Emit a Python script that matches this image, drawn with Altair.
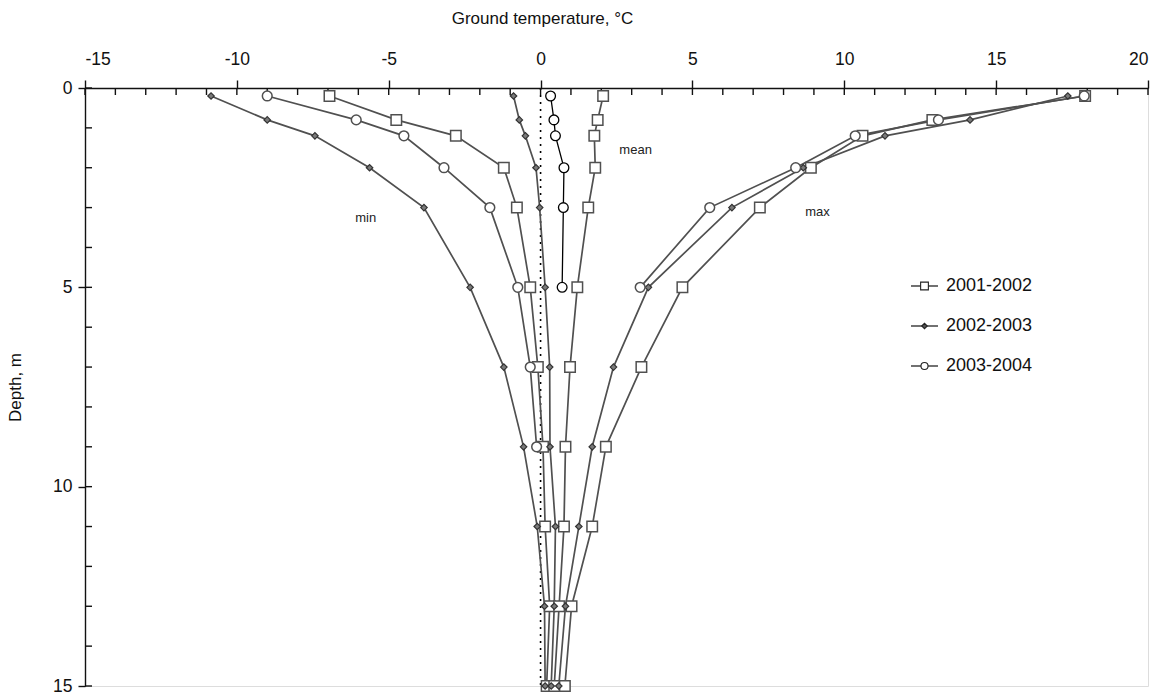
import altair as alt
import pandas as pd

# ---------------- data ----------------
years = ["2001-2002", "2002-2003", "2003-2004"]
depths = [0.2, 0.8, 1.2, 2, 3, 5, 7, 9, 11, 13, 15]

min_0102 = [-6.95, -4.75, -2.79, -1.21, -0.78, -0.34, -0.09, 0.08, 0.15, 0.30, 0.20]
min_0203 = [-10.85, -9.0, -7.43, -5.63, -3.84, -2.32, -1.21, -0.56, -0.11, 0.13, 0.15]
min_0304 = [-9.0, -6.07, -4.5, -3.18, -1.67, -0.75, -0.34, -0.13]

mean_0102 = [2.06, 1.88, 1.77, 1.80, 1.57, 1.21, 0.97, 0.82, 0.77, 0.61, 0.45]
mean_0203 = [-0.89, -0.70, -0.50, -0.15, -0.03, 0.15, 0.30, 0.31, 0.49, 0.45, 0.35]
mean_0304 = [0.33, 0.44, 0.49, 0.77, 0.75, 0.71]

max_0102 = [17.93, 12.9, 10.6, 8.9, 7.22, 4.67, 3.32, 2.15, 1.70, 1.02, 0.80]
max_0203 = [17.36, 14.14, 11.34, 8.65, 6.3, 3.55, 2.40, 1.70, 1.26, 0.82, 0.60]
max_0304 = [17.9, 13.1, 10.36, 8.4, 5.57, 3.28]

x_major = [-15, -10, -5, 0, 5, 10, 15, 20]
x_minor = list(range(-15, 21))
y_major = [0, 5, 10, 15]
y_minor = list(range(0, 16))

annot_text = ["min", "mean", "max"]
annot_temp = [-5.76, 3.13, 9.12]
annot_depth = [3.25, 1.55, 3.1]

# ---------------- build table ----------------
rows = []
def add(year, kind, temps):
    for d, t in zip(depths, temps):
        rows.append({"year": year, "kind": kind, "curve": year + " " + kind,
                     "depth": d, "temp": t})

add(years[0], "min", min_0102); add(years[1], "min", min_0203); add(years[2], "min", min_0304)
add(years[0], "mean", mean_0102); add(years[1], "mean", mean_0203); add(years[2], "mean", mean_0304)
add(years[0], "max", max_0102); add(years[1], "max", max_0203); add(years[2], "max", max_0304)
df = pd.DataFrame(rows)

FONT = "Liberation Sans"
X = alt.X("temp:Q",
          scale=alt.Scale(domain=[-15, 20], nice=False, zero=False),
          axis=alt.Axis(orient="top", values=x_major, title="Ground temperature, °C",
                        labelExpr="'' + datum.value", grid=False,
                        tickSize=8, tickWidth=1.4, tickColor="#111",
                        domainColor="#111", domainWidth=1.4,
                        labelFont=FONT, labelFontSize=17.5, labelColor="#111",
                        labelPadding=12, titleFont=FONT, titleFontSize=17,
                        titleFontWeight="normal", titleColor="#111", titlePadding=23,
                        titleX=457, titleAlign="center", titleAnchor="start"))
Y = alt.Y("depth:Q",
          scale=alt.Scale(domain=[0, 15], reverse=True, nice=False, zero=False),
          axis=alt.Axis(values=y_major, title="Depth, m", grid=False,
                        tickSize=7, tickWidth=1.4, tickColor="#111",
                        domainColor="#111", domainWidth=1.4,
                        labelFont=FONT, labelFontSize=17.5, labelColor="#111",
                        labelPadding=6, titleFont=FONT, titleFontSize=17,
                        titleFontWeight="normal", titleColor="#111", titlePadding=28))

GRAY = "#505050"
base = alt.Chart(df)

gray_lines = base.transform_filter(
    "datum.curve != '2003-2004 mean'"
).mark_line(color=GRAY, strokeWidth=1.7).encode(
    x=X, y=Y, detail="curve:N", order="depth:Q")

black_line = base.transform_filter(
    "datum.curve == '2003-2004 mean'"
).mark_line(color="#000", strokeWidth=1.3).encode(
    x=X, y=Y, order="depth:Q")

zero_line = alt.Chart(pd.DataFrame({"temp": [0, 0], "depth": [0, 15]})).mark_line(
    color="#000", strokeWidth=1.6, strokeDash=[2, 5]).encode(x=X, y=Y)

squares = base.transform_filter(alt.datum.year == years[0]).mark_point(
    shape="square", size=110, filled=True, fill="white", stroke=GRAY,
    strokeWidth=1.5, opacity=1).encode(x=X, y=Y)
diamonds = base.transform_filter(alt.datum.year == years[1]).mark_point(
    shape="diamond", size=42, filled=True, fill="#7a7a7a", stroke="#333",
    strokeWidth=1.2, opacity=1).encode(x=X, y=Y)
circles_gray = base.transform_filter(
    "datum.year == '2003-2004' && datum.kind != 'mean'").mark_point(
    shape="circle", size=95, filled=True, fill="white", stroke=GRAY,
    strokeWidth=1.5, opacity=1).encode(x=X, y=Y)
circles_black = base.transform_filter(
    "datum.year == '2003-2004' && datum.kind == 'mean'").mark_point(
    shape="circle", size=95, filled=True, fill="white", stroke="#000",
    strokeWidth=1.3, opacity=1).encode(x=X, y=Y)

xticks = alt.Chart(pd.DataFrame({"temp": x_minor})).mark_rule(
    color="#111", strokeWidth=1.4).encode(x=X, y=alt.value(0), y2=alt.value(7))
yticks = alt.Chart(pd.DataFrame({"depth": y_minor})).mark_rule(
    color="#111", strokeWidth=1.4).encode(y=Y, x=alt.value(0), x2=alt.value(7))

annots = alt.Chart(pd.DataFrame({"temp": annot_temp, "depth": annot_depth,
                                 "label": annot_text})).mark_text(
    font=FONT, fontSize=13, color="#222", align="center", baseline="middle").encode(
    x=X, y=Y, text="label:N")

# ---------------- legend (manual) ----------------
leg_layers = []
leg_shapes = [("square", "white", "#222", 60), ("diamond", "#555", "#222", 30),
              ("circle", "white", "#222", 50)]
for i, name in enumerate(years):
    yy = 198 + 40 * i
    d = pd.DataFrame({"label": [name]})
    shp, fill, stroke, sz = leg_shapes[i]
    leg_layers.append(alt.Chart(d).mark_rule(color="#111", strokeWidth=1.2).encode(
        x=alt.value(826), x2=alt.value(853), y=alt.value(yy)))
    leg_layers.append(alt.Chart(d).mark_point(
        shape=shp, size=sz, filled=True, fill=fill, stroke=stroke, strokeWidth=1.1,
        opacity=1).encode(x=alt.value(839.5), y=alt.value(yy)))
    leg_layers.append(alt.Chart(d).mark_text(
        font=FONT, fontSize=18, color="#111", align="left", baseline="middle").encode(
        x=alt.value(861), y=alt.value(yy), text="label:N"))

chart = alt.layer(
    zero_line, gray_lines, black_line, xticks, yticks,
    squares, diamonds, circles_gray, circles_black, annots, *leg_layers
).properties(
    width=1063, height=598,
    autosize=alt.AutoSizeParams(type="none"),
    padding={"left": 85, "top": 88, "right": 22, "bottom": 9},
).configure_view(stroke=None).configure(background="white")

chart.save("out.html", embed_options={"renderer": "svg", "actions": False})
